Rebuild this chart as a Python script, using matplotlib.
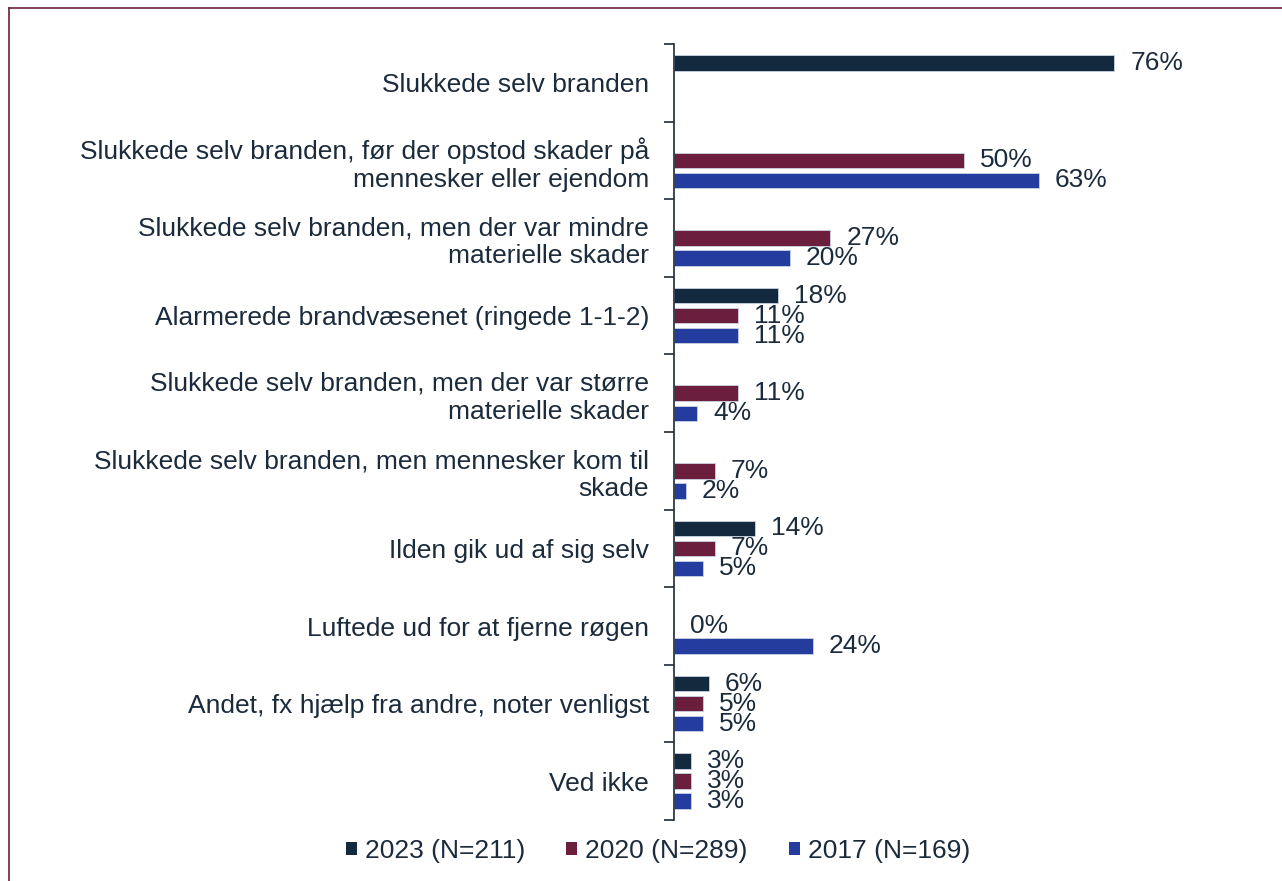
import matplotlib.pyplot as plt
import numpy as np
from matplotlib.lines import Line2D
from matplotlib.patches import Patch

categories = [
    "Slukkede selv branden",
    "Slukkede selv branden, før der opstod skader på\nmennesker eller ejendom",
    "Slukkede selv branden, men der var mindre\nmaterielle skader",
    "Alarmerede brandvæsenet (ringede 1-1-2)",
    "Slukkede selv branden, men der var større\nmaterielle skader",
    "Slukkede selv branden, men mennesker kom til\nskade",
    "Ilden gik ud af sig selv",
    "Luftede ud for at fjerne røgen",
    "Andet, fx hjælp fra andre, noter venligst",
    "Ved ikke",
]
series_names = ["2023 (N=211)", "2020 (N=289)", "2017 (N=169)"]
v2023 = [76, None, None, 18, None, None, 14, None, 6, 3]
v2020 = [None, 50, 27, 11, 11, 7, 7, 0, 5, 3]
v2017 = [None, 63, 20, 11, 4, 2, 5, 24, 5, 3]

COLORS = ["#132A3E", "#6B1F3C", "#253C9F"]
INK = "#1B2B3C"
FS = 19

plt.rcParams["font.family"] = ["Liberation Sans", "DejaVu Sans"]

fig = plt.figure(figsize=(12.82, 8.81), dpi=100, facecolor="white")
ax = fig.add_axes([0.5257, 0.0692, 0.452, 0.8808])

y = np.arange(len(categories))
step = 0.258
height = 0.2
for k, (vals, color, name) in enumerate(zip([v2023, v2020, v2017], COLORS, series_names)):
    off = (k - 1) * step
    for i, v in enumerate(vals):
        if v is None:
            continue
        ax.barh(y[i] + off, v, height=height, color=color, edgecolor="#C9D3E3", linewidth=0.6)
        ax.annotate(f"{v}%", xy=(v, y[i] + off), xytext=(11.5, 0), textcoords="offset points",
                    ha="left", va="center", fontsize=FS, color=INK)

ax.set_xlim(0, 100)
ax.set_ylim(len(categories) - 0.5, -0.5)
ax.set_yticks(y)
ax.set_yticklabels(categories, fontsize=FS, color=INK, linespacing=1.2)
ax.tick_params(axis="y", which="major", length=0, pad=18)
ax.set_yticks(np.arange(len(categories) + 1) - 0.5, minor=True)
ax.tick_params(axis="y", which="minor", length=7, width=1.2, color="#1F2A36")
ax.set_xticks([])
for s in ["top", "right", "bottom"]:
    ax.spines[s].set_visible(False)
ax.spines["left"].set_color("#1F2A36")
ax.spines["left"].set_linewidth(1.2)

handles = [Patch(facecolor=c, edgecolor="none") for c in COLORS]
fig.legend(handles, series_names, loc="center", bbox_to_anchor=(658 / 1282, 1 - 851 / 881), ncol=3,
           frameon=False, fontsize=FS, handlelength=0.42, handleheight=0.42,
           handletextpad=0.3, columnspacing=1.55, labelcolor=INK)

# outer frame (left and top visible)
fig.add_artist(Line2D([9 / 1282, 9 / 1282], [0, 1 - 8 / 881], transform=fig.transFigure,
                      color="#6B1F3C", linewidth=1.2))
fig.add_artist(Line2D([9 / 1282, 1], [1 - 8 / 881, 1 - 8 / 881], transform=fig.transFigure,
                      color="#6B1F3C", linewidth=1.2))

fig.savefig("out.png", dpi=100, facecolor="white")
